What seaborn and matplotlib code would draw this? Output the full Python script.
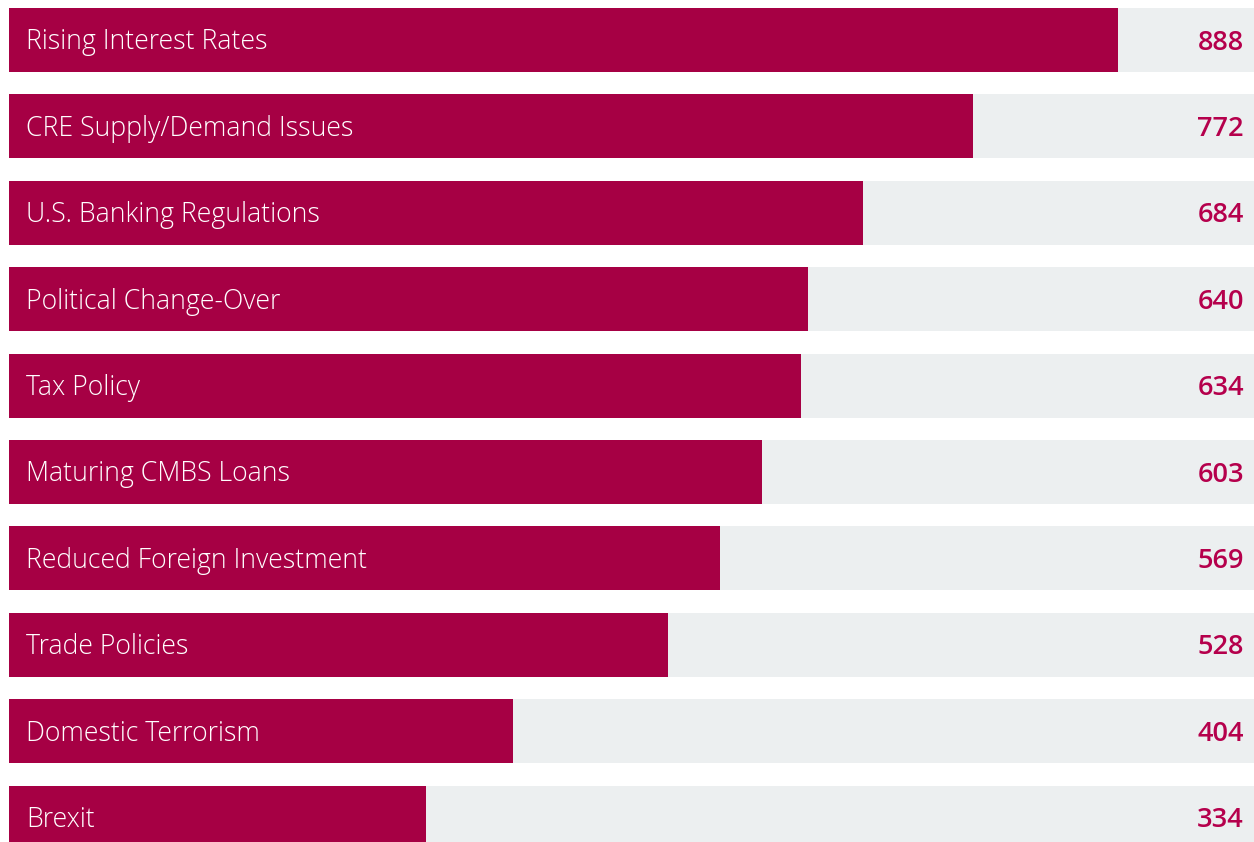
import matplotlib
matplotlib.use("Agg")
import matplotlib.pyplot as plt
import matplotlib.transforms as mtransforms
import seaborn as sns
import pandas as pd

categories = [
    "Rising Interest Rates",
    "CRE Supply/Demand Issues",
    "U.S. Banking Regulations",
    "Political Change-Over",
    "Tax Policy",
    "Maturing CMBS Loans",
    "Reduced Foreign Investment",
    "Trade Policies",
    "Domestic Terrorism",
    "Brexit",
]
values = [888, 772, 684, 640, 634, 603, 569, 528, 404, 334]
track_max = 1000

BAR = "#A60044"
TRACK = "#ECEFF0"
VALUE_TXT = "#B5004C"

sns.set_theme(style="white")
plt.rcParams["font.family"] = ["Open Sans", "DejaVu Sans"]

df = pd.DataFrame({"category": categories, "value": values,
                   "track": [track_max] * len(values)})

W, H = 1254, 842
fig = plt.figure(figsize=(W / 100, H / 100), dpi=100)
left_px = 9
ax = fig.add_axes([left_px / W, 0, 1 - left_px / W, 1])

sns.barplot(data=df, x="track", y="category", orient="h", color=TRACK,
            width=0.74, saturation=1, ax=ax)
sns.barplot(data=df, x="value", y="category", orient="h", color=BAR,
            width=0.74, saturation=1, ax=ax)

# row pitch 86.4 px, first bar centre at 40 px from the top
pitch, first_c = 86.4, 40.0
ax.set_ylim((H - first_c) / pitch, (0 - first_c) / pitch)
ax.set_xlim(0, 997)

for p in ax.patches:
    p.set_linewidth(0)

px = 0.72  # points per pixel at 100 dpi
base_drop = -9.5 * px  # baseline sits a little below the bar centre
for i, (cat, v) in enumerate(zip(categories, values)):
    ax.annotate(cat, xy=(0, i), xytext=(17 * px, base_drop),
                textcoords="offset points", ha="left", va="baseline",
                color="white", fontsize=19.2, fontweight="light")
    ax.annotate(f"{v}", xy=(1.0, i),
                xycoords=mtransforms.blended_transform_factory(ax.transAxes, ax.transData),
                xytext=(-10 * px, base_drop), textcoords="offset points",
                ha="right", va="baseline", color=VALUE_TXT, fontsize=19.5,
                fontweight="semibold")

ax.set_axis_off()
fig.savefig("out.png", dpi=100)
